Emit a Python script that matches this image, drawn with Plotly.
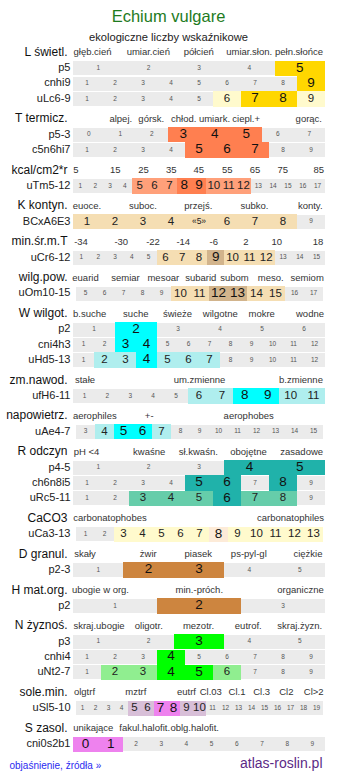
import plotly.graph_objects as go

# ---------------- data ----------------
TITLE = "Echium vulgare"
SUBTITLE = "ekologiczne liczby wskaźnikowe"

SECTION_TITLES = ["L świetl.", "T termicz.", "kcal/cm2*r", "K kontyn.", "min.śr.m.T",
                  "wilg.pow.", "W wilgot.", "zm.nawod.", "napowietrz.", "R odczyn",
                  "CaCO3", "D granul.", "H mat.org.", "N żyznoś.", "sole.min.", "S zasol."]

SCALE_LABELS = [
    ["głęb.cień", "umiar.cień", "półcień", "umiar.słon.", "pełn.słońce"],
    ["alpej.", "górsk.", "chłod.", "umiark.", "ciepl.+", "gorąc."],
    ["5", "15", "25", "35", "45", "55", "65", "75", "85"],
    ["euoce.", "suboc.", "przejś.", "subko.", "konty."],
    ["-34", "-30", "-22", "-14", "-6", "2", "10", "18"],
    ["euarid", "semiar", "mesoar", "subarid", "subom", "meso.", "semiom"],
    ["b.suche", "suche", "świeże", "wilgotne", "mokre", "wodne"],
    ["stałe", "um.zmienne", "b.zmienne"],
    ["aerophiles", "+-", "aerophobes"],
    ["pH <4", "kwaśne", "sł.kwaśn.", "obojętne", "zasadowe"],
    ["carbonatophobes", "carbonatophiles"],
    ["skały", "żwir", "piasek", "ps-pyl-gl", "ciężkie"],
    ["ubogie w org.", "min.-próch.", "organiczne"],
    ["skraj.ubogie", "oligotr.", "mezotr.", "eutrof.", "skraj.żyzn."],
    ["olgtrf", "mztrf", "eutrf", "Cl.03", "Cl.1", "Cl.3", "Cl2", "Cl>2"],
    ["unikające", "fakul.halofit.", "oblg.halofit."],
]

SECTION_ROWS = [3, 2, 1, 1, 1, 1, 3, 1, 1, 3, 1, 1, 1, 3, 1, 1]

ROW_LABELS = ["p5", "cnhi9", "uLc6-9", "p5-3", "c5n6hi7", "uTm5-12", "BCxA6E3",
              "uCr6-12", "uOm10-15", "p2", "cni4h3", "uHd5-13", "ufH6-11", "uAe4-7",
              "p4-5", "ch6n8i5", "uRc5-11", "uCa3-13", "p2-3", "p2", "p3", "cnhi4",
              "uNt2-7", "uSl5-10", "cni0s2b1"]

ROW_MIN = [1, 1, 1, 0, 1, 1, 1, 1, 5, 1, 1, 1, 1, 3, 1, 1, 1, 1, 1, 1, 1, 1, 1, 1, 0]
ROW_MAX = [5, 9, 9, 7, 9, 17, 9, 15, 17, 6, 12, 12, 11, 15, 5, 9, 9, 13, 5, 3, 5, 9, 9, 19, 9]

ROW_STRONG = [[5], [9], [7, 8], [3, 4, 5], [5, 6, 7], [8, 9], [], [9], [12, 13],
              [2], [3, 4], [4], [8, 9], [5, 6], [4, 5], [5, 6, 8], [6], [8],
              [2, 3], [2], [3], [4], [4, 5], [7, 8], [0, 1]]

ROW_LIGHT = [[], [], [6, 9], [], [], [5, 6, 7, 10, 11, 12], [1, 2, 3, 4, 5, 6, 7, 8],
             [6, 7, 8, 10, 11, 12], [10, 11, 14, 15], [], [], [2, 3, 5, 6, 7],
             [6, 7, 10, 11], [4, 7], [], [], [3, 4, 5, 7, 8],
             [3, 4, 5, 6, 7, 9, 10, 11, 12, 13], [], [], [], [], [2, 3, 6], [5, 6, 9, 10], []]

ROW_UNCERTAIN = {"BCxA6E3": [5]}

FOOTER_LEFT = "objaśnienie, źródła »"
FOOTER_RIGHT = "atlas-roslin.pl"

# ---------------- styles / layout ----------------
STRONG_COL = ["#FFD700", "#FF7F50", "#FF7F50", "#D2B48C", "#D2B48C", "#D2B48C",
              "#00FFFF", "#00FFFF", "#00FFFF", "#20B2AA", "#FDEBD8", "#CD853F",
              "#CD853F", "#00FF00", "#EE82EE", "#EE82EE"]
LIGHT_COL = ["#FFFACD", "#FFA07A", "#FFA07A", "#F5DEB3", "#F5DEB3", "#F5DEB3",
             "#AFEEEE", "#AFEEEE", "#AFEEEE", "#66CDAA", "#FFFACD", "#DEB887",
             "#DEB887", "#90EE90", "#D8BFD8", "#D8BFD8"]
GRAY = "#EBEBEB"

# scale label centres (px) per section header
SCALE_X = [
    [92.5, 148.3, 198.7, 249.2, 299.0],
    [120.8, 151.3, 183.7, 214.5, 246.2, 308.8],
    [75.8, 115.2, 143.5, 171.2, 198.8, 227.2, 255.0, 282.8, 318.8],
    [87.0, 143.0, 198.3, 254.5, 310.2],
    [81.0, 121.3, 153.0, 183.3, 213.8, 245.8, 276.7, 318.0],
    [85.5, 125.5, 163.3, 200.8, 234.5, 270.8, 307.2],
    [89.7, 135.8, 177.5, 220.3, 261.7, 310.0],
    [85.0, 199.5, 301.0],
    [94.8, 149.2, 248.7],
    [86.5, 149.2, 198.3, 248.5, 301.7],
    [110.0, 290.5],
    [85.0, 148.3, 198.3, 248.8, 308.0],
    [100.5, 199.3, 300.5],
    [99.0, 148.8, 198.5, 248.3, 299.7],
    [84.5, 135.8, 186.5, 210.8, 237.0, 261.7, 286.3, 313.7],
    [93.3, 144.7, 194.7],
]
NARROW_ROWS = {"uOm10-15", "uAe4-7", "uCa3-13", "uSl5-10"}
GRID_X0, GRID_X1 = 73.0, 325.0
NARROW_X0, NARROW_X1 = 76.0, 323.0

FIRST_ROW_Y = 68.4
ROW_PITCH = 15.25
SECTION_GAP = 35.9
HEADER_OFFSET = 15.4
GRAY_H = 14.0
CELL_H = 15.2

FONT = "Liberation Sans, Arial, sans-serif"
W, H = 337, 781

# ---------------- compute geometry ----------------
row_y = []
header_y = []
y = FIRST_ROW_Y
ri = 0
row_section = []
for s, n in enumerate(SECTION_ROWS):
    header_y.append(y - HEADER_OFFSET)
    for k in range(n):
        row_y.append(y)
        row_section.append(s)
        if k < n - 1:
            y += ROW_PITCH
    y += SECTION_GAP

bg_base, bg_len, bg_y = [], [], []
c_base, c_len, c_y, c_col = [], [], [], []
t_x, t_y, t_txt, t_size, t_col = [], [], [], [], []

for i, lab in enumerate(ROW_LABELS):
    s = row_section[i]
    x0, x1 = (NARROW_X0, NARROW_X1) if lab in NARROW_ROWS else (GRID_X0, GRID_X1)
    vals = list(range(ROW_MIN[i], ROW_MAX[i] + 1))
    cw = (x1 - x0) / len(vals)
    bg_base.append(x0); bg_len.append(x1 - x0); bg_y.append(row_y[i])
    for j, v in enumerate(vals):
        cx = x0 + (j + 0.5) * cw
        txt = str(v)
        if v in ROW_STRONG[i]:
            c_base.append(x0 + j * cw); c_len.append(cw); c_y.append(row_y[i])
            c_col.append(STRONG_COL[s])
            size, col = 13.5, "#111111"
        elif v in ROW_LIGHT[i]:
            c_base.append(x0 + j * cw); c_len.append(cw); c_y.append(row_y[i])
            c_col.append(LIGHT_COL[s])
            size, col = 11.5, "#222222"
        else:
            size, col = 6.5, "#555555"
        if v in ROW_UNCERTAIN.get(lab, []):
            txt = "«" + txt + "»"
            size = 8.5
        t_x.append(cx); t_y.append(row_y[i]); t_txt.append(txt)
        t_size.append(size); t_col.append(col)

fig = go.Figure()
fig.add_trace(go.Bar(orientation="h", base=bg_base, x=bg_len, y=bg_y,
                     width=[GRAY_H] * len(bg_y), marker=dict(color=GRAY, line=dict(width=0)),
                     hoverinfo="skip"))
fig.add_trace(go.Bar(orientation="h", base=c_base, x=c_len, y=c_y,
                     width=[CELL_H] * len(c_y), marker=dict(color=c_col, line=dict(width=0)),
                     hoverinfo="skip"))
fig.add_trace(go.Scatter(x=t_x, y=t_y, text=t_txt, mode="text", textposition="middle center",
                         textfont=dict(family=FONT, size=t_size, color=t_col), hoverinfo="skip"))

# row labels
fig.add_trace(go.Scatter(x=[70.5] * len(ROW_LABELS), y=row_y, text=ROW_LABELS, mode="text",
                         textposition="middle left",
                         textfont=dict(family=FONT, size=11, color="#222222"), hoverinfo="skip"))
# section titles
fig.add_trace(go.Scatter(x=[67.5] * len(SECTION_TITLES), y=header_y, text=SECTION_TITLES,
                         mode="text", textposition="middle left",
                         textfont=dict(family=FONT, size=12, color="#111111"), hoverinfo="skip"))
# scale labels
sx, sy, st = [], [], []
for s, labs in enumerate(SCALE_LABELS):
    for lab, xx in zip(labs, SCALE_X[s]):
        sx.append(xx); sy.append(header_y[s]); st.append(lab)
fig.add_trace(go.Scatter(x=sx, y=sy, text=st, mode="text", textposition="middle center",
                         textfont=dict(family=FONT, size=9.5, color="#333333"), hoverinfo="skip"))

# title, subtitle, footer
fig.add_trace(go.Scatter(x=[168.5, 168.5], y=[18, 38.5], text=[TITLE, SUBTITLE], mode="text",
                         textposition="middle center",
                         textfont=dict(family=FONT, size=[16.5, 11.2], color=["#1E7B1E", "#222222"]),
                         hoverinfo="skip"))
fig.add_trace(go.Scatter(x=[9.5], y=[766], text=[FOOTER_LEFT], mode="text",
                         textposition="middle right",
                         textfont=dict(family=FONT, size=10, color="#2B2BF0"), hoverinfo="skip"))
fig.add_trace(go.Scatter(x=[322.5], y=[764], text=[FOOTER_RIGHT], mode="text",
                         textposition="middle left",
                         textfont=dict(family=FONT, size=14, color="#5B2A86"), hoverinfo="skip"))

fig.update_layout(
    width=W, height=H, margin=dict(l=0, r=0, t=0, b=0),
    paper_bgcolor="white", plot_bgcolor="white", showlegend=False,
    barmode="overlay", bargap=0,
    xaxis=dict(range=[0, W], visible=False, fixedrange=True),
    yaxis=dict(range=[H, 0], visible=False, fixedrange=True),
)
fig.write_html("out.html")
